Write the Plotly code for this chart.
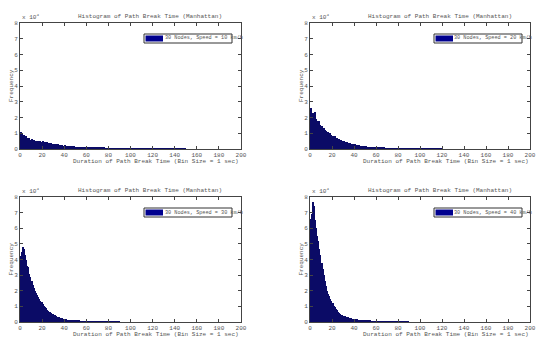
import plotly.graph_objects as go

# Histogram counts (x 10^4) per 1-sec bin, starting at 0
v10 = [1.05,0.95,0.85,0.9,0.75,0.8,0.7,0.65,0.72,0.6,
 0.62,0.55,0.58,0.5,0.52,0.48,0.5,0.45,0.52,0.47,
 0.5,0.44,0.46,0.4,0.42,0.38,0.4,0.35,0.37,0.33,
 0.34,0.3,0.31,0.28,0.3,0.26,0.27,0.24,0.25,0.22,
 0.23,0.2,0.21,0.19,0.2,0.17,0.18,0.16,0.17,0.15,
 0.15,0.13,0.14,0.12,0.13,0.11,0.12,0.1,0.13,0.1,
 0.11,0.09,0.1,0.09,0.09,0.08,0.09,0.08,0.08,0.07,
 0.08,0.07,0.07,0.06,0.07,0.06,0.07,0.06,0.06,0.05,
 0.06,0.05,0.05,0.05,0.05,0.04,0.05,0.04,0.05,0.04,
 0.04,0.04,0.04,0.035,0.04,0.035,0.035,0.03,0.035,0.03,
 0.03,0.03,0.03,0.025,0.03,0.025,0.025,0.025,0.02,0.025,
 0.02,0.02,0.02,0.02,0.02,0.018,0.018,0.015,0.018,0.015,
 0.015,0.015,0.013,0.013,0.012,0.012,0.01,0.012,0.01,0.01,
 0.01,0.009,0.009,0.008,0.008,0.007,0.007,0.006,0.006,0.005,
 0.005,0.005,0.004,0.004,0.003,0.003,0.003,0.002,0.002,0.002]

v20 = [2.6,2.1,2.3,2.2,2.35,1.9,1.6,1.8,1.75,1.5,
 1.45,1.3,1.35,1.2,1.15,1.05,1.1,0.95,1.0,0.9,
 0.85,0.8,0.82,0.72,0.7,0.65,0.62,0.58,0.55,0.5,
 0.48,0.45,0.45,0.42,0.4,0.38,0.36,0.34,0.32,0.3,
 0.29,0.27,0.26,0.25,0.23,0.22,0.21,0.2,0.18,0.17,
 0.16,0.15,0.15,0.14,0.13,0.12,0.12,0.11,0.1,0.1,
 0.09,0.09,0.08,0.08,0.075,0.07,0.07,0.065,0.06,0.06,
 0.055,0.05,0.05,0.048,0.045,0.045,0.04,0.04,0.038,0.035,
 0.035,0.032,0.03,0.03,0.028,0.027,0.025,0.025,0.023,0.022,
 0.02,0.02,0.019,0.018,0.017,0.016,0.015,0.015,0.014,0.013,
 0.012,0.012,0.011,0.01,0.01,0.009,0.009,0.008,0.008,0.007,
 0.007,0.006,0.006,0.005,0.005,0.004,0.004,0.003,0.003,0.002]

v30 = [4.2,4.5,4.8,4.7,4.3,4.0,3.6,3.5,3.1,2.9,
 2.6,2.4,2.2,2.0,1.85,1.7,1.6,1.45,1.35,1.25,
 1.15,1.05,0.95,0.88,0.8,0.72,0.66,0.62,0.56,0.5,
 0.46,0.42,0.38,0.35,0.32,0.3,0.27,0.25,0.23,0.21,
 0.19,0.18,0.16,0.15,0.14,0.13,0.12,0.11,0.1,0.09,
 0.085,0.08,0.07,0.065,0.06,0.055,0.05,0.045,0.042,0.04,
 0.036,0.033,0.03,0.028,0.025,0.023,0.021,0.019,0.017,0.015,
 0.014,0.012,0.011,0.01,0.009,0.008,0.007,0.006,0.005,0.005,
 0.004,0.004,0.003,0.003,0.002,0.002,0.002,0.001,0.001,0.001]

v40 = [6.6,6.9,7.7,7.4,6.5,6.0,5.5,5.2,4.7,4.3,
 3.8,3.4,3.0,2.6,2.3,2.0,1.8,1.65,1.5,1.35,
 1.2,1.05,0.95,0.85,0.75,0.65,0.58,0.52,0.48,0.44,
 0.4,0.37,0.34,0.32,0.3,0.28,0.26,0.24,0.22,0.21,
 0.2,0.18,0.17,0.16,0.15,0.14,0.13,0.12,0.11,0.1,
 0.09,0.085,0.08,0.07,0.065,0.06,0.055,0.05,0.045,0.04,
 0.036,0.033,0.03,0.027,0.024,0.022,0.02,0.018,0.016,0.014,
 0.012,0.011,0.01,0.009,0.008,0.007,0.006,0.005,0.004,0.004,
 0.003,0.003,0.002,0.002,0.002,0.001,0.001,0.001,0.001,0.001]

series = [v10, v20, v30, v40]
speeds = [10, 20, 30, 40]
title = "Histogram of Path Break Time (Manhattan)"
xlabel = "Duration of Path Break Time (Bin Size = 1 sec)"
ylabel = "Frequency"
xticks = list(range(0, 201, 20))
yticks = list(range(0, 9))

W, H = 540, 345
# pixel boxes: (left, right, top, bottom)
boxes = [(20, 241, 23, 149), (310, 530, 23, 149),
         (20, 241, 197, 322), (310, 530, 197, 322)]

FONT = "Liberation Mono"
TXT = "#555555"
BAR = "#0b0b66"
SWATCH = "#00008f"
fig = go.Figure()
ann = []
shapes = []
layout = dict(width=W, height=H, margin=dict(l=0, r=0, t=0, b=0),
              paper_bgcolor="white", plot_bgcolor="white",
              bargap=0, showlegend=False,
              font=dict(family=FONT, size=6, color=TXT))

def px(xp):
    return xp / W

def py(yp):
    return 1 - yp / H

for i, (vals, sp, box) in enumerate(zip(series, speeds, boxes)):
    l, r, t, b = box
    n = i + 1
    xa = "x" if n == 1 else f"x{n}"
    ya = "y" if n == 1 else f"y{n}"
    name = f"30 Nodes, Speed = {sp} km/h"
    fig.add_trace(go.Bar(
        x=[k + 0.5 for k in range(len(vals))], y=vals, width=1,
        marker=dict(color=BAR, line=dict(width=0)),
        name=name, xaxis=xa, yaxis=ya))
    axcommon = dict(showgrid=False, zeroline=False, showline=True,
                    linecolor="#444444", linewidth=1, mirror="ticks",
                    ticks="inside", ticklen=3, tickcolor="#444444",
                    tickfont=dict(family=FONT, size=6, color=TXT))
    layout["xaxis" if n == 1 else f"xaxis{n}"] = dict(
        domain=[px(l), px(r)], range=[0, 200], tickvals=xticks,
        anchor=ya, automargin=False, **axcommon)
    layout["yaxis" if n == 1 else f"yaxis{n}"] = dict(
        domain=[py(b), py(t)], range=[0, 8], tickvals=yticks,
        anchor=xa, automargin=False, **axcommon)
    ann.append(dict(text=title, x=px(l + 56), y=py(t - 6), xref="paper", yref="paper",
                    showarrow=False, xanchor="left", yanchor="middle",
                    font=dict(family=FONT, size=6, color=TXT)))
    ann.append(dict(text=xlabel, x=px(l + 51), y=py(b + 12), xref="paper", yref="paper",
                    showarrow=False, xanchor="left", yanchor="middle",
                    font=dict(family=FONT, size=6, color=TXT)))
    ann.append(dict(text=ylabel, x=px(l - 9), y=py((t + b) / 2),
                    xref="paper", yref="paper", textangle=-90,
                    showarrow=False, xanchor="center", yanchor="middle",
                    font=dict(family=FONT, size=6, color=TXT)))
    ann.append(dict(text="x 10<sup>4</sup>", x=px(l), y=py(t),
                    xref="paper", yref="paper",
                    showarrow=False, xanchor="left", yanchor="bottom",
                    font=dict(family=FONT, size=6, color=TXT)))
    # legend box drawn manually (MATLAB style)
    lx0, lx1 = l + 124, l + 212
    ly0, ly1 = t + 11, t + 20
    shapes.append(dict(type="rect", xref="paper", yref="paper",
                       x0=px(lx0), x1=px(lx1), y0=py(ly1), y1=py(ly0),
                       line=dict(color="#333333", width=1), fillcolor="white",
                       layer="above"))
    shapes.append(dict(type="rect", xref="paper", yref="paper",
                       x0=px(lx0 + 1.5), x1=px(lx0 + 19), y0=py(ly1 - 1.5),
                       y1=py(ly0 + 1.5),
                       line=dict(width=0), fillcolor=SWATCH, layer="above"))
    ann.append(dict(text=name, x=px(lx0 + 18.5), y=py((ly0 + ly1) / 2),
                    xref="paper", yref="paper",
                    showarrow=False, xanchor="left", yanchor="middle",
                    font=dict(family=FONT, size=5.2, color=TXT)))

layout["annotations"] = ann
layout["shapes"] = shapes
fig.update_layout(**layout)
fig.write_html("out.html")
